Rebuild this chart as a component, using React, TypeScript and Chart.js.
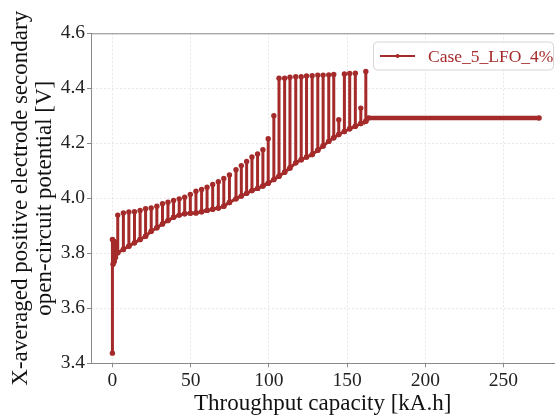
import React, { useEffect, useRef } from "react";
import { Chart, registerables } from "chart.js";

Chart.register(...registerables);

const seriesLabel = "Case_5_LFO_4%";

// initial rest / first cycle cluster near zero throughput
const startX = [0, 0, 0.4, 0.8, 1.2, 1.6, 2.0, 2.4];
const startY = [3.437, 3.85, 3.76, 3.845, 3.77, 3.84, 3.785, 3.8];

// cycle spikes: throughput position, bottom and top of each spike
const spikeX = [
  3.4, 7.0, 10.5, 14.1, 17.7, 21.2, 24.8, 28.4, 32.0, 35.5, 39.1, 42.7, 46.2, 49.8, 53.4, 57.0,
  60.5, 64.1, 67.7, 71.2, 74.8, 79.0, 82.4, 85.8, 89.2, 92.8, 96.2, 99.6, 103.2, 106.5, 110.1,
  113.5, 117.2, 120.7, 124.1, 127.7, 131.3, 134.7, 138.3, 141.5, 144.7, 148.3, 151.7, 155.3,
  158.8, 162.0,
];
const spikeLow = [
  3.802, 3.814, 3.826, 3.838, 3.85, 3.862, 3.88, 3.893, 3.907, 3.919, 3.931, 3.939, 3.944, 3.946,
  3.947, 3.951, 3.956, 3.96, 3.965, 3.971, 3.985, 3.998, 4.008, 4.018, 4.028, 4.036, 4.045, 4.055,
  4.068, 4.08, 4.095, 4.11, 4.129, 4.14, 4.15, 4.159, 4.175, 4.19, 4.207, 4.22, 4.232, 4.243,
  4.253, 4.262, 4.272, 4.28,
];
const spikeHigh = [
  3.939, 3.947, 3.95, 3.951, 3.956, 3.962, 3.965, 3.971, 3.98, 3.986, 3.992, 3.998, 4.004, 4.014,
  4.026, 4.032, 4.04, 4.05, 4.06, 4.072, 4.085, 4.104, 4.119, 4.134, 4.15, 4.161, 4.177, 4.217,
  4.3, 4.437, 4.437, 4.44, 4.442, 4.442, 4.445, 4.446, 4.448, 4.448, 4.449, 4.45, 4.286, 4.452,
  4.454, 4.455, 4.328, 4.461,
];

// final plateau
const plateauX = [163.7, 272.8];
const plateauY = [4.292, 4.292];

const xTicks = [0, 50, 100, 150, 200, 250];
const yTicks = [3.4, 3.6, 3.8, 4.0, 4.2, 4.4, 4.6];

const xTitle = "Throughput capacity [kA.h]";
const yTitle = ["X-averaged positive electrode secondary", "open-circuit potential [V]"];

const BROWN = "#a52a2a";
const AXIS = "#8a8a8a";
const GRID = "rgba(190,190,190,0.35)";
const FONT = "'Liberation Serif', 'Times New Roman', serif";

function buildPoints() {
  const pts: { x: number; y: number }[] = [];
  startX.forEach((x, i) => pts.push({ x, y: startY[i] }));
  spikeX.forEach((x, i) => {
    pts.push({ x, y: spikeLow[i] });
    pts.push({ x, y: spikeHigh[i] });
    pts.push({ x, y: spikeLow[i] });
  });
  plateauX.forEach((x, i) => pts.push({ x, y: plateauY[i] }));
  return pts;
}

const framePlugin = {
  id: "frameAndLegend",
  afterDraw(chart: any) {
    const { ctx, chartArea } = chart;
    ctx.save();
    // top spine
    ctx.strokeStyle = AXIS;
    ctx.lineWidth = 1;
    ctx.beginPath();
    ctx.moveTo(chartArea.left, chartArea.top + 0.5);
    ctx.lineTo(chartArea.right, chartArea.top + 0.5);
    ctx.stroke();

    // legend
    const bx = 373.5, by = 42, bw = 180, bh = 28;
    ctx.beginPath();
    (ctx as any).roundRect(bx, by, bw, bh, 4);
    ctx.fillStyle = "rgba(255,255,255,0.85)";
    ctx.fill();
    ctx.strokeStyle = "#d6d6d6";
    ctx.lineWidth = 1;
    ctx.stroke();
    const ly = by + bh / 2;
    ctx.strokeStyle = BROWN;
    ctx.lineWidth = 2;
    ctx.beginPath();
    ctx.moveTo(380, ly);
    ctx.lineTo(415, ly);
    ctx.stroke();
    ctx.fillStyle = BROWN;
    ctx.beginPath();
    ctx.arc(397.5, ly, 2, 0, Math.PI * 2);
    ctx.fill();
    ctx.font = "17.5px " + FONT;
    ctx.textBaseline = "middle";
    ctx.textAlign = "left";
    ctx.fillText(seriesLabel, 428, ly + 1);
    ctx.restore();
  },
};

export default function App() {
  const ref = useRef<HTMLCanvasElement | null>(null);
  useEffect(() => {
    if (!ref.current) return;
    const chart = new Chart(ref.current, {
      type: "scatter",
      data: {
        datasets: [
          {
            label: seriesLabel,
            data: buildPoints(),
            showLine: true,
            borderColor: BROWN,
            backgroundColor: BROWN,
            borderWidth: 3,
            pointRadius: 2.7,
            pointHoverRadius: 2.7,
            pointBorderWidth: 0,
            tension: 0,
            segment: {
              borderWidth: (c: any) =>
                c.p0.parsed.x >= 163 && c.p1.parsed.x >= 163 ? 4.5 : 3,
            },
          } as any,
        ],
      },
      options: {
        animation: false,
        responsive: false,
        devicePixelRatio: 1,
        layout: { padding: { left: 0, right: 0, top: 33.3, bottom: 0 } },
        plugins: { legend: { display: false }, tooltip: { enabled: false } },
        scales: {
          x: {
            type: "linear",
            min: -13.7,
            max: 282.5,
            afterBuildTicks: (s: any) => {
              s.ticks = xTicks.map((v) => ({ value: v }));
            },
            afterFit: (s: any) => {
              s.height = 53.7;
            },
            ticks: {
              color: "#222",
              font: { family: FONT, size: 19.5 },
              padding: 2,
              maxRotation: 0,
              autoSkip: false,
              callback: (v: any) => String(v),
            },
            grid: {
              color: GRID,
              tickColor: AXIS,
              tickLength: 4,
              tickBorderDash: [],
            } as any,
            border: { color: AXIS, dash: [2, 2] },
            title: {
              display: true,
              text: xTitle,
              color: "#111",
              font: { family: FONT, size: 23, lineHeight: 1.1 },
              padding: { top: 0, bottom: 0.5 },
            },
          },
          y: {
            type: "linear",
            min: 3.4,
            max: 4.6,
            afterBuildTicks: (s: any) => {
              s.ticks = yTicks.map((v) => ({ value: v }));
            },
            afterFit: (s: any) => {
              s.width = 91;
            },
            ticks: {
              color: "#222",
              font: { family: FONT, size: 19.5 },
              padding: 2,
              autoSkip: false,
              callback: (v: any) => Number(v).toFixed(1),
            },
            grid: {
              color: GRID,
              tickColor: AXIS,
              tickLength: 4,
              tickBorderDash: [],
            } as any,
            border: { color: AXIS, dash: [2, 2] },
            title: {
              display: true,
              text: yTitle,
              color: "#111",
              font: { family: FONT, size: 23, lineHeight: 1.05 },
              padding: { top: 9, bottom: 0 },
            },
          },
        },
      },
      plugins: [framePlugin],
    });
    return () => chart.destroy();
  }, []);
  return (
    <div style={{ position: "absolute", left: 0, top: 0, width: 557, height: 417, background: "#fff" }}>
      <canvas ref={ref} width={557} height={417} style={{ display: "block" }} />
    </div>
  );
}
